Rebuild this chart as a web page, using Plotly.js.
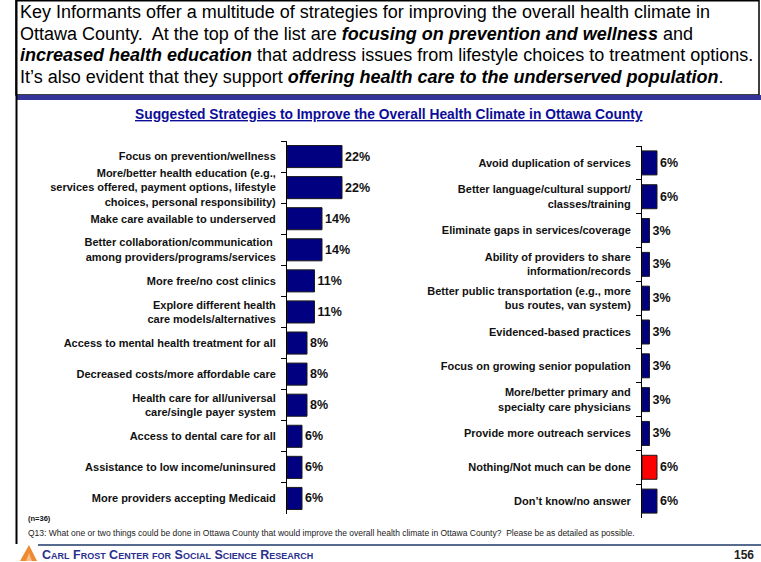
<!DOCTYPE html>
<html><head><meta charset="utf-8">
<script src="https://cdn.plot.ly/plotly-3.0.1.min.js"></script>
<style>html,body{margin:0;padding:0;background:#fff;overflow:hidden;} #chart{width:761px;height:562px;}</style>
</head><body><div id="chart"></div>
<script>
// ---- data ----
const leftCategories = [
  "Focus on prevention/wellness",
  "More/better health education (e.g.,<br>services offered, payment options, lifestyle<br>choices, personal responsibility)",
  "Make care available to underserved",
  "Better collaboration/communication <br>among providers/programs/services",
  "More free/no cost clinics",
  "Explore different health<br>care models/alternatives",
  "Access to mental health treatment for all",
  "Decreased costs/more affordable care",
  "Health care for all/universal<br>care/single payer system",
  "Access to dental care for all",
  "Assistance to low income/uninsured",
  "More providers accepting Medicaid"
];
const leftValues = [22, 22, 14, 14, 11, 11, 8, 8, 8, 6, 6, 6];

const rightCategories = [
  "Avoid duplication of services",
  "Better language/cultural support/<br>classes/training",
  "Eliminate gaps in services/coverage",
  "Ability of providers to share<br>information/records",
  "Better public transportation (e.g., more<br>bus routes, van system)",
  "Evidenced-based practices",
  "Focus on growing senior population",
  "More/better primary and<br>specialty care physicians",
  "Provide more outreach services",
  "Nothing/Not much can be done",
  "Don\u2019t know/no answer"
];
const rightValues = [6, 6, 3, 3, 3, 3, 3, 3, 3, 6, 6];
const highlightedCategory = "Nothing/Not much can be done";

const chartTitle = "Suggested Strategies to Improve the Overall Health Climate in Ottawa County";
const headerLines = [
  "Key Informants offer a multitude of strategies for improving the overall health climate in",
  "Ottawa County.\u00a0 At the top of the list are <b><i>focusing on prevention and wellness</i></b> and",
  "<b><i>increased health education</i></b> that address issues from lifestyle choices to treatment options.",
  "It\u2019s also evident that they support <b><i>offering health care to the underserved population</i></b>."
];
const sampleNote = "(n=36)";
const questionNote = "Q13: What one or two things could be done in Ottawa County that would improve the overall health climate in Ottawa County?\u00a0 Please be as detailed as possible.";
const footerOrg = "Carl Frost Center for Social Science Research";
const pageNumber = "156";

// ---- layout helpers ----
const W = 761, H = 562;
const px = x => x / W;
const py = y => 1 - y / H;
const FONT = "Liberation Sans, Arial, Helvetica, sans-serif";
const NAVY = "#000080";

const pct = v => v + "%";

const barCommon = {
  type: "bar", orientation: "h",
  textposition: "outside", cliponaxis: false, constraintext: "none",
  textfont: {family: FONT, size: 12.5, color: "#111", weight: "bold"},
  hoverinfo: "skip"
};

const traces = [
  Object.assign({}, barCommon, {
    x: leftValues, y: leftCategories, text: leftValues.map(pct),
    xaxis: "x", yaxis: "y",
    marker: {color: NAVY, line: {color: "#1a1a1a", width: 1}}
  }),
  Object.assign({}, barCommon, {
    x: rightValues, y: rightCategories, text: rightValues.map(pct),
    xaxis: "x2", yaxis: "y2",
    marker: {color: rightCategories.map(c => c === highlightedCategory ? "#ff0000" : NAVY),
             line: {color: "#1a1a1a", width: 1}}
  })
];

const yCommon = {
  type: "category", ticks: "outside", tickson: "boundaries", ticklen: 5,
  tickcolor: "#000", tickwidth: 1, showline: true, linecolor: "#000", linewidth: 1,
  showgrid: false, zeroline: false, ticklabelstandoff: 8,
  tickfont: {family: FONT, size: 11, color: "#111", weight: "bold"},
  fixedrange: true
};

const headerAnn = headerLines.map((t, i) => ({
  xref: "paper", yref: "paper", x: px(18), y: py(12 + i * 21.7),
  xanchor: "left", yanchor: "middle", showarrow: false, text: t,
  font: {family: FONT, size: 18, color: "#000"}
}));

const layout = {
  width: W, height: H, margin: {l: 0, r: 0, t: 0, b: 0},
  paper_bgcolor: "#fff", plot_bgcolor: "rgba(0,0,0,0)",
  showlegend: false, bargap: 0.29,
  xaxis: {domain: [px(287), px(367)], range: [0, 32], visible: false, fixedrange: true, anchor: "y"},
  yaxis: Object.assign({}, yCommon, {domain: [py(514), py(141)], range: [leftCategories.length - 0.5, -0.5], anchor: "x"}),
  xaxis2: {domain: [px(642), px(722)], range: [0, 32], visible: false, fixedrange: true, anchor: "y2"},
  yaxis2: Object.assign({}, yCommon, {domain: [py(518), py(146)], range: [rightCategories.length - 0.5, -0.5], anchor: "x2"}),
  annotations: headerAnn.concat([
    {xref: "paper", yref: "paper", x: px(389), y: py(114), xanchor: "center", yanchor: "middle", showarrow: false,
     text: "<b><u>" + chartTitle + "</u></b>", font: {family: FONT, size: 13.8, color: "#0d0d99"}},
    {xref: "paper", yref: "paper", x: px(26), y: py(518), xanchor: "left", yanchor: "middle", showarrow: false,
     text: "<b>" + sampleNote + "</b>", font: {family: FONT, size: 7.5, color: "#111"}},
    {xref: "paper", yref: "paper", x: px(26), y: py(533), xanchor: "left", yanchor: "middle", showarrow: false,
     text: questionNote, font: {family: FONT, size: 8.5, color: "#222"}},
    {xref: "paper", yref: "paper", x: px(40), y: py(555), xanchor: "left", yanchor: "middle", showarrow: false,
     text: "<b>" + footerOrg + "</b>", font: {family: FONT, size: 12.5, color: "#2b2f8f", variant: "small-caps"}},
    {xref: "paper", yref: "paper", x: px(756), y: py(555), xanchor: "right", yanchor: "middle", showarrow: false,
     text: "<b>" + pageNumber + "</b>", font: {family: FONT, size: 12, color: "#222"}}
  ]),
  shapes: [
    // header box
    {type: "rect", xref: "paper", yref: "paper", x0: px(16), x1: px(759), y0: py(95), y1: py(0.8),
     line: {color: "#000", width: 1.5}, fillcolor: "rgba(0,0,0,0)"},
    // blue band
    {type: "rect", xref: "paper", yref: "paper", x0: px(16), x1: px(761), y0: py(100), y1: py(95),
     line: {width: 0}, fillcolor: "#333399"},
    // left vertical rule
    {type: "line", xref: "paper", yref: "paper", x0: px(16.5), x1: px(16.5), y0: py(0), y1: py(544),
     line: {color: "#000", width: 2}},
    // footer rule
    {type: "line", xref: "paper", yref: "paper", x0: px(38), x1: px(761), y0: py(545), y1: py(545),
     line: {color: "#1f3a6a", width: 1.5}},
    // logo
    {type: "path", xref: "paper", yref: "paper",
     path: `M ${px(20)} ${py(561)} L ${px(29)} ${py(545)} L ${px(37)} ${py(561)} Z`,
     line: {width: 0}, fillcolor: "#f08a30"},
    {type: "path", xref: "paper", yref: "paper",
     path: `M ${px(26)} ${py(561)} L ${px(29)} ${py(553)} L ${px(32)} ${py(561)} Z`,
     line: {width: 0}, fillcolor: "#f7c08a"}
  ]
};

Plotly.newPlot("chart", traces, layout, {displayModeBar: false, staticPlot: true});
</script>
</body></html>
